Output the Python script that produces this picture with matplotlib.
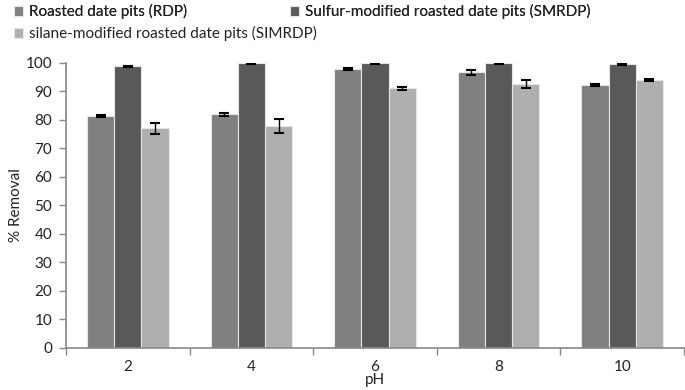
import numpy as np
import matplotlib.pyplot as plt

plt.rcParams['font.family'] = ['Lato', 'DejaVu Sans']

ph = ['2', '4', '6', '8', '10']
rdp = [81.3, 81.9, 97.7, 96.6, 92.2]
rdp_err = [0.3, 0.5, 0.4, 0.9, 0.3]
smrdp = [98.7, 99.9, 99.8, 99.8, 99.6]
smrdp_err = [0.3, 0.2, 0.2, 0.2, 0.3]
simrdp = [77.0, 77.8, 91.0, 92.5, 93.9]
simrdp_err = [2.0, 2.6, 0.6, 1.3, 0.3]

labels = ['Roasted date pits (RDP)',
          'Sulfur-modified roasted date pits (SMRDP)',
          'silane-modified roasted date pits (SIMRDP)']
colors = ['#808080', '#595959', '#afafaf']

fig = plt.figure(figsize=(6.85, 3.9), dpi=100)
ax = fig.add_axes([0.0964, 0.1077, 0.9021, 0.7315])

x = np.arange(len(ph))
w = 0.22
bars = []
for i, (vals, errs) in enumerate([(rdp, rdp_err), (smrdp, smrdp_err), (simrdp, simrdp_err)]):
    b = ax.bar(x + (i - 1) * w, vals, w, color=colors[i], edgecolor='#e6e6e6', linewidth=0.8,
               yerr=errs, capsize=3.5,
               error_kw=dict(ecolor='black', elinewidth=1, capthick=1.5), label=labels[i])
    bars.append(b)

ax.set_xlim(-0.5, len(ph) - 0.5)
ax.set_ylim(0, 100)
ax.set_yticks(range(0, 101, 10))
ax.set_xticks(x)
ax.set_xticklabels(ph)
ax.set_xticks(np.arange(-0.5, len(ph), 1), minor=True)
ax.tick_params(axis='x', which='major', length=0, pad=9)
ax.tick_params(axis='x', which='minor', length=5, width=1, color='#888888', direction='out')
ax.tick_params(axis='y', length=5, width=1, color='#888888', direction='out', pad=5)
ax.tick_params(labelsize=11, labelcolor='#222222')
for s in ['top', 'right']:
    ax.spines[s].set_visible(False)
for s in ['left', 'bottom']:
    ax.spines[s].set_color('#888888')
    ax.spines[s].set_linewidth(1.2)

ax.set_xlabel('pH', fontsize=11, color='#222222', labelpad=-1)
ax.set_ylabel('% Removal', fontsize=11, color='#222222', labelpad=2)

leg_kw = dict(loc='upper left', frameon=False, fontsize=11, handlelength=0.6,
              handleheight=0.6, handletextpad=0.4, labelcolor='#222222')
leg1 = fig.legend([bars[0], bars[1]], [labels[0], labels[1]], ncol=2,
                  bbox_to_anchor=(0.0, 1.025), columnspacing=6.7, **leg_kw)
leg2 = fig.legend([bars[2]], [labels[2]], bbox_to_anchor=(0.0, 0.968), **leg_kw)
fig.add_artist(leg1)

fig.savefig('out.png', dpi=100)
